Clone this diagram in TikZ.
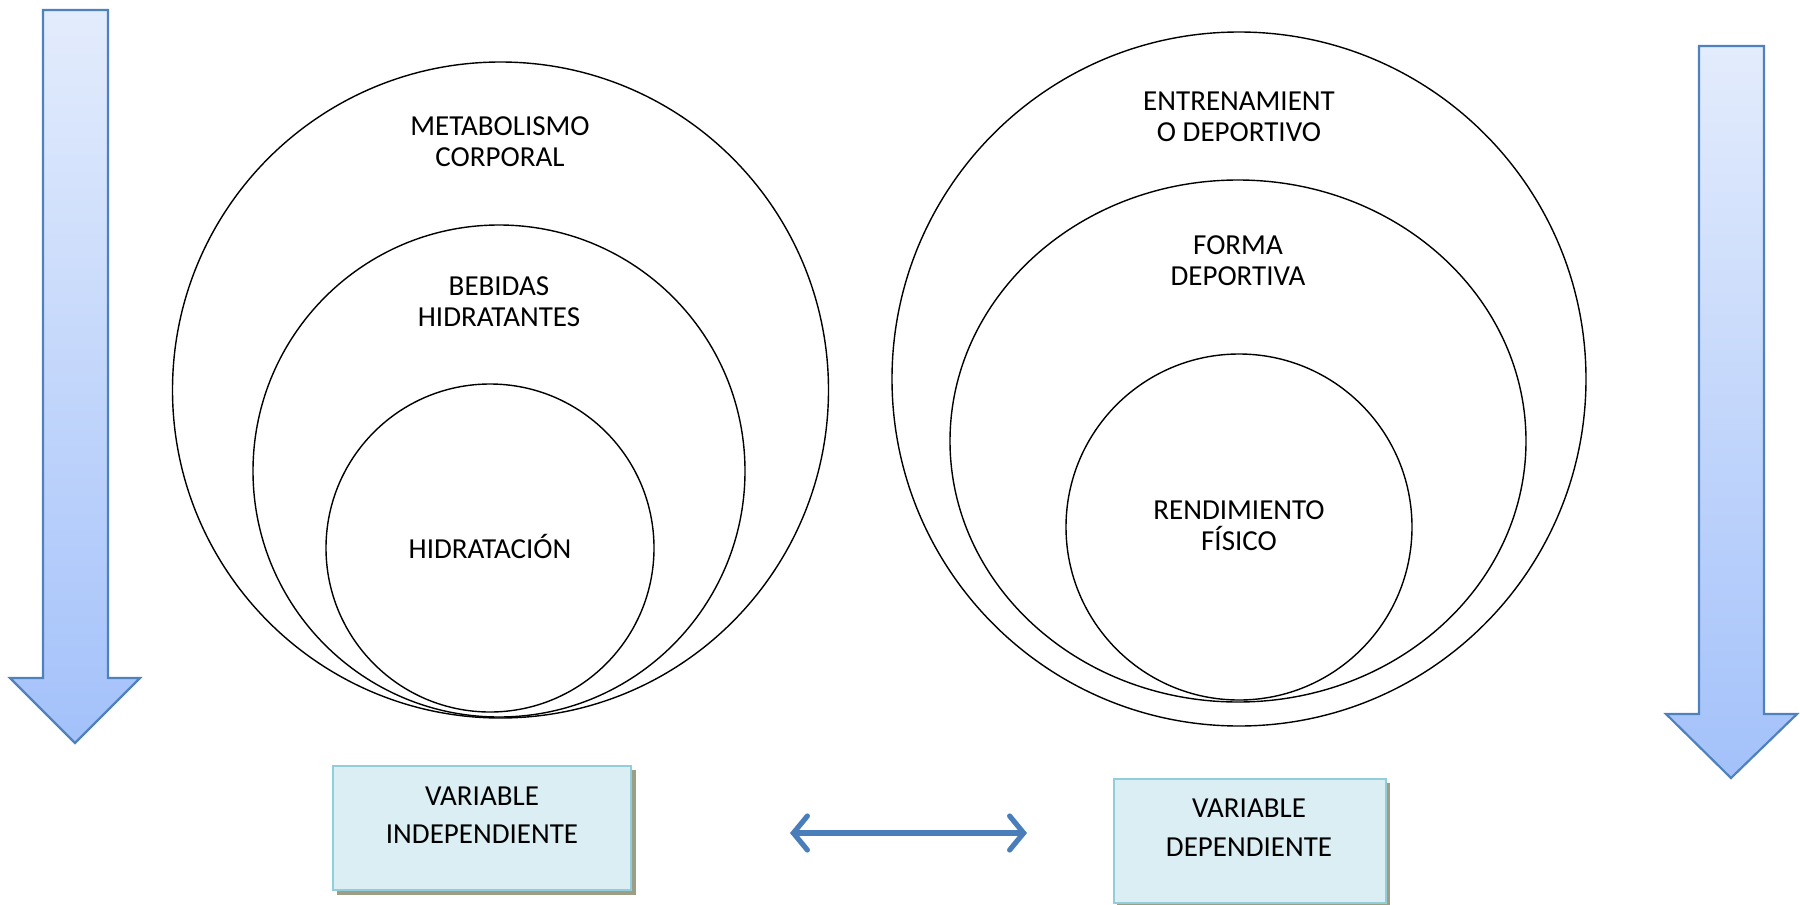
\documentclass[tikz,border=0pt]{standalone}
\usepackage{fontspec}
\setmainfont{Carlito}
\usetikzlibrary{shapes.geometric,arrows.meta}
\definecolor{arrowedge}{HTML}{4F81BD}
\definecolor{arrowtop}{HTML}{E3ECFC}
\definecolor{arrowbot}{HTML}{A3C1FA}
\definecolor{boxfill}{HTML}{DBEEF4}
\definecolor{boxedge}{HTML}{92CDDC}
\definecolor{boxshadow}{HTML}{9C9F85}
\definecolor{linkblue}{HTML}{4A7EBB}
\tikzset{
  ring/.style={draw=black, line width=0.7pt, circle, inner sep=0pt},
  label/.style={font=\fontsize{14.5}{15.5}\selectfont, align=center, inner sep=0pt},
  boxtext/.style={font=\fontsize{14.5}{18.8}\selectfont, align=center, inner sep=0pt},
  downarrow/.style={draw=arrowedge, line width=1.1pt, line join=miter, top color=arrowtop, bottom color=arrowbot},
  varbox/.style={draw=boxedge, line width=1.3pt, fill=boxfill, inner sep=0pt},
  boxshade/.style={fill=boxshadow},
  link/.style={draw=linkblue, line width=2.6pt, line cap=round,
               {Straight Barb[length=7pt, width=17pt, line cap=round]}-{Straight Barb[length=7pt, width=17pt, line cap=round]}}
}
\begin{document}
\begin{tikzpicture}[x=0.5pt, y=-0.5pt]
\useasboundingbox (0,0) rectangle (1800,905);

% vertical arrows at both sides
\draw[downarrow] (43,10) -- (108,10) -- (108,678) -- (140,678) -- (75,743) -- (10,678) -- (43,678) -- cycle;
\draw[downarrow] (1699,46) -- (1764,46) -- (1764,714) -- (1797,714) -- (1731,778) -- (1666,714) -- (1699,714) -- cycle;

% left group of nested circles
\node[ring, minimum size=656pt*0.5] (metab) at (500.5,390) {};
\node[ring, minimum size=492pt*0.5] (bebid) at (499,471) {};
\node[ring, minimum size=328pt*0.5] (hidra) at (490,548) {};
\node[label] (tmetab) at (500,142) {METABOLISMO\\CORPORAL};
\node[label] (tbebid) at (499,302) {BEBIDAS\\HIDRATANTES};
\node[label] (thidra) at (490,546) {HIDRATACIÓN};

% right group of nested shapes
\node[ring, minimum size=694pt*0.5] (entre) at (1239,379) {};
\node[draw=black, line width=0.7pt, ellipse, inner sep=0pt, minimum width=576pt*0.5, minimum height=522pt*0.5] (forma) at (1238,441) {};
\node[ring, minimum size=346pt*0.5] (rendi) at (1239,527) {};
\node[label] (tentre) at (1239,117) {ENTRENAMIENT\\O DEPORTIVO};
\node[label] (tforma) at (1238,261) {FORMA\\DEPORTIVA};
\node[label] (trendi) at (1239,526) {RENDIMIENTO\\FÍSICO};

% variable boxes with offset shadows
\fill[boxshade] (337,770) rectangle (636,895);
\node[varbox, minimum width=298pt*0.5, minimum height=124pt*0.5] (vind) at (482,828) {};
\node[boxtext] (tvind) at (482,815) {VARIABLE\\INDEPENDIENTE};
\fill[boxshade] (1117,783) rectangle (1390,905);
\node[varbox, minimum width=272pt*0.5, minimum height=124pt*0.5] (vdep) at (1250,841) {};
\node[boxtext, font=\fontsize{14.5}{19.6}\selectfont] (tvdep) at (1249,828) {VARIABLE\\DEPENDIENTE};

% relation between the two variables
\coordinate (la) at (790,833);
\coordinate (lb) at (1027,833);
\draw[link] (la) -- (lb);
\end{tikzpicture}
\end{document}
